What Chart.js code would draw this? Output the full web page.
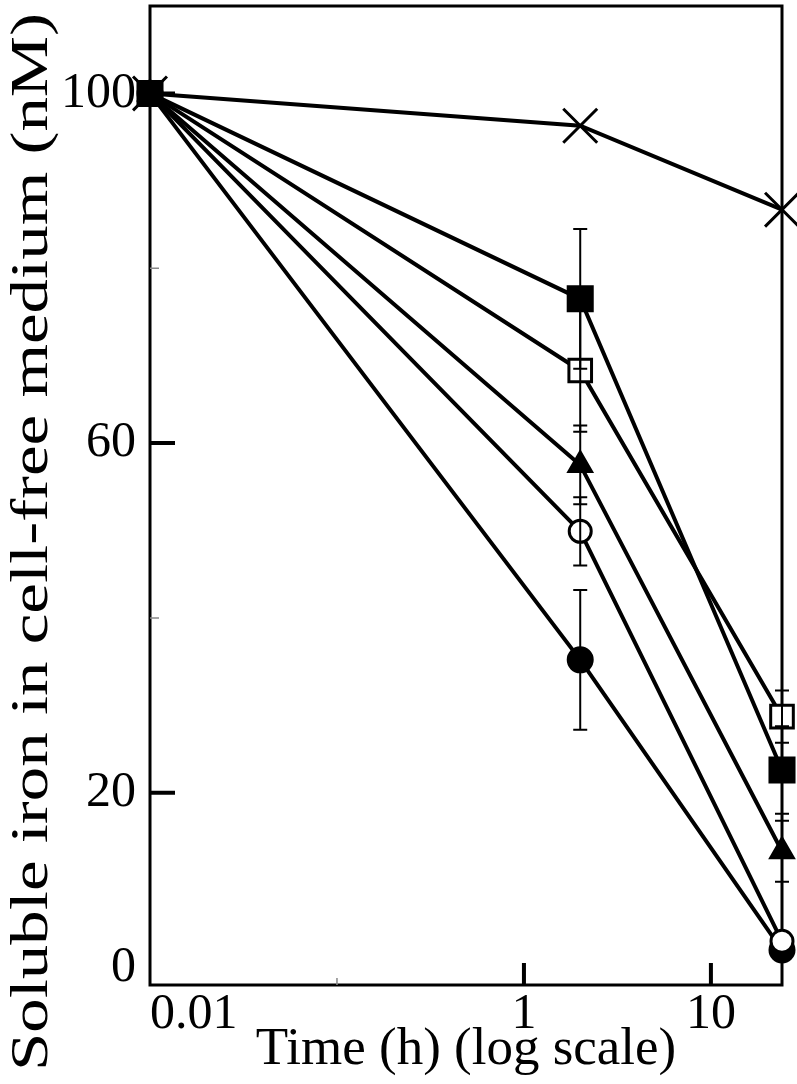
<!DOCTYPE html>
<html>
<head>
<meta charset="utf-8">
<script src="https://cdn.jsdelivr.net/npm/chart.js@4.4.1/dist/chart.umd.min.js"></script>
<style>
html, body { margin: 0; padding: 0; background: #fff; }
#wrap { width: 797px; height: 1084px; }
</style>
</head>
<body>
<div id="wrap"><canvas id="ironChart" width="797" height="1084"></canvas></div>
<script>
// time points (h); time zero sits at 0.01 on the log axis
const times = [0.01, 2, 24];

const crossValues = [100, 96.3, 86.7];
const filledSquareValues = [100, 76.5, 22.6];
const filledSquareErr = [0, 8, 5];
const openSquareValues = [100, 68.3, 28.7];
const openSquareErr = [0, 7, 3];
const triangleValues = [100, 57.5, 13.3];
const triangleErr = [0, 4.5, 3.5];
const openCircleValues = [100, 49.9, 3];
const openCircleErr = [0, 3.9, 0];
const filledCircleValues = [100, 35.2, 2];
const filledCircleErr = [0, 8, 0];

const xTickValues = [0.01, 0.1, 1, 10, 24];
const xTickLabels = ['0.01', '', '1', '10', ''];
const xMajorTicks = [1, 10];
const xMinorTicks = [0.1];
const yTickValues = [0, 20, 40, 60, 80, 100];
const yTickLabels = ['0', '20', '', '60', '', '100'];
const yMajorTicks = [20, 60, 100];
const yMinorTicks = [40, 80];

const xTitle = 'Time (h) (log scale)';
const yTitle = 'Soluble iron in cell-free medium (nM)';

const serif = '"Liberation Serif", "Times New Roman", serif';

function series(label, values, err, style, radius, fill) {
    return {
        label: label,
        data: times.map((t, i) => ({ x: t, y: values[i] })),
        err: err,
        borderColor: '#000',
        borderWidth: 4,
        pointStyle: style,
        pointRadius: radius,
        pointHoverRadius: radius,
        pointBackgroundColor: fill,
        pointBorderColor: '#000',
        pointBorderWidth: 3,
        tension: 0,
        fill: false,
        clip: false
    };
}

// plot frame plus inward tick marks
const frameTicksPlugin = {
    id: 'frameTicks',
    beforeDatasetsDraw: (chart) => {
        const { ctx, chartArea, scales } = chart;
        const { left, right, top, bottom } = chartArea;
        ctx.save();
        ctx.strokeStyle = '#000';
        ctx.lineWidth = 3;
        ctx.strokeRect(left, top, right - left, bottom - top);

        ctx.lineWidth = 4;
        ctx.beginPath();
        xMajorTicks.forEach(v => {
            const px = scales.x.getPixelForValue(v);
            ctx.moveTo(px, bottom);
            ctx.lineTo(px, bottom - 22);
        });
        yMajorTicks.forEach(v => {
            const py = scales.y.getPixelForValue(v);
            ctx.moveTo(left, py);
            ctx.lineTo(left + 25, py);
        });
        ctx.stroke();

        ctx.strokeStyle = '#888';
        ctx.lineWidth = 1.5;
        ctx.beginPath();
        xMinorTicks.forEach(v => {
            const px = scales.x.getPixelForValue(v);
            ctx.moveTo(px, bottom);
            ctx.lineTo(px, bottom - 7);
        });
        yMinorTicks.forEach(v => {
            const py = scales.y.getPixelForValue(v);
            ctx.moveTo(left, py);
            ctx.lineTo(left + 9, py);
        });
        ctx.stroke();
        ctx.restore();
    }
};

// vertical error bars with small caps
const errorBarsPlugin = {
    id: 'errorBars',
    afterDatasetsDraw: (chart) => {
        const { ctx, scales } = chart;
        ctx.save();
        ctx.strokeStyle = '#000';
        ctx.lineWidth = 2;
        chart.data.datasets.forEach(ds => {
            if (!ds.err) return;
            ds.data.forEach((p, i) => {
                const e = ds.err[i];
                if (!e) return;
                const px = scales.x.getPixelForValue(p.x);
                const yTop = scales.y.getPixelForValue(p.y + e);
                const yBot = scales.y.getPixelForValue(p.y - e);
                ctx.beginPath();
                ctx.moveTo(px, yTop);
                ctx.lineTo(px, yBot);
                ctx.moveTo(px - 7, yTop);
                ctx.lineTo(px + 7, yTop);
                ctx.moveTo(px - 7, yBot);
                ctx.lineTo(px + 7, yBot);
                ctx.stroke();
            });
        });
        ctx.restore();
    }
};

// rotated y title, stretched along its length like the source figure
const yTitlePlugin = {
    id: 'yTitle',
    afterDraw: (chart) => {
        const ctx = chart.ctx;
        ctx.save();
        ctx.translate(33, 542);
        ctx.rotate(-Math.PI / 2);
        ctx.scale(1.3, 1);
        ctx.font = '53px ' + serif;
        ctx.fillStyle = '#000';
        ctx.textAlign = 'center';
        ctx.textBaseline = 'middle';
        ctx.fillText(yTitle, 0, 0);
        ctx.restore();
    }
};

const ctx = document.getElementById('ironChart').getContext('2d');
const ironChart = new Chart(ctx, {
    type: 'line',
    data: {
        datasets: [
            series('No cells', crossValues, null, 'crossRot', 24, '#000'),
            series('Filled square', filledSquareValues, filledSquareErr, 'rect', 17, '#000'),
            series('Open square', openSquareValues, openSquareErr, 'rect', 16, '#fff'),
            series('Filled triangle', triangleValues, triangleErr, 'triangle', 13, '#000'),
            series('Open circle', openCircleValues, openCircleErr, 'circle', 11, '#fff'),
            series('Filled circle', filledCircleValues, filledCircleErr, 'circle', 12, '#000')
        ]
    },
    options: {
        responsive: false,
        animation: false,
        layout: {
            autoPadding: false,
            padding: { top: 6, right: 15, left: 0, bottom: 0 }
        },
        plugins: {
            legend: { display: false },
            tooltip: { enabled: false }
        },
        scales: {
            x: {
                type: 'logarithmic',
                min: 0.01,
                max: 24,
                afterBuildTicks: (scale) => {
                    scale.ticks = xTickValues.map(v => ({ value: v }));
                },
                afterFit: (scale) => {
                    scale.height = 99;
                    scale.paddingLeft = 0;
                    scale.paddingRight = 0;
                },
                grid: { display: false, drawTicks: false },
                border: { display: false },
                ticks: {
                    autoSkip: false,
                    maxRotation: 0,
                    align: 'inner',
                    padding: 0,
                    color: '#000',
                    font: { family: serif, size: 50 },
                    callback: function(value) {
                        const i = xTickValues.indexOf(value);
                        return i >= 0 ? xTickLabels[i] : '';
                    }
                },
                title: {
                    display: true,
                    text: xTitle,
                    color: '#000',
                    font: { family: serif, size: 53 },
                    padding: { top: 0, bottom: 2 }
                }
            },
            y: {
                min: -2,
                max: 110,
                afterBuildTicks: (scale) => {
                    scale.ticks = yTickValues.map(v => ({ value: v }));
                },
                afterFit: (scale) => {
                    scale.width = 150;
                    scale.paddingTop = 0;
                    scale.paddingBottom = 0;
                },
                grid: { display: false, drawTicks: false },
                border: { display: false },
                ticks: {
                    autoSkip: false,
                    padding: 14,
                    color: '#000',
                    font: { family: serif, size: 50 },
                    callback: function(value) {
                        const i = yTickValues.indexOf(value);
                        return i >= 0 ? yTickLabels[i] : '';
                    }
                }
            }
        }
    },
    plugins: [frameTicksPlugin, errorBarsPlugin, yTitlePlugin]
});
</script>
</body>
</html>
